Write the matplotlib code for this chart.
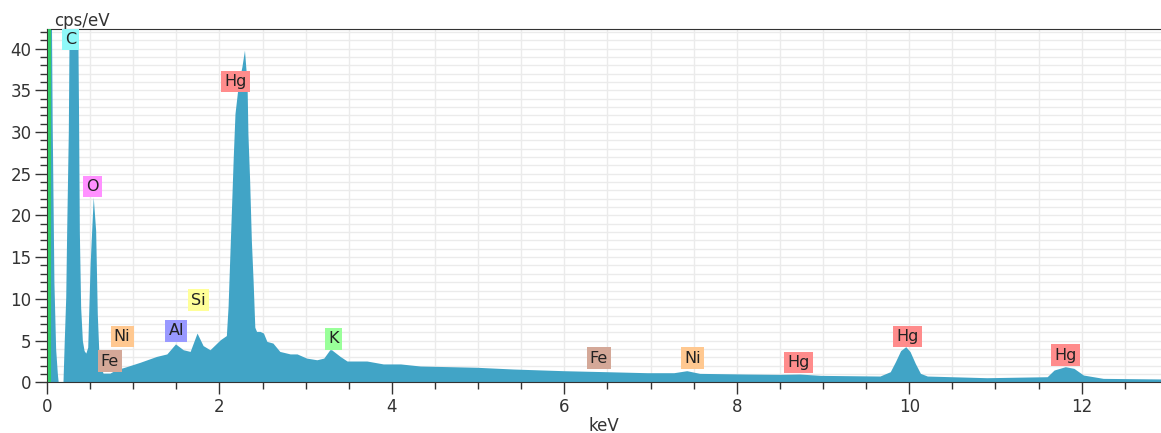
import matplotlib
matplotlib.use("Agg")
from matplotlib import pyplot as plt
from matplotlib.ticker import MultipleLocator

# spectrum (keV, cps/eV)
energy = [0.0, 0.05, 0.06, 0.08, 0.10, 0.12, 0.13, 0.185, 0.20, 0.217, 0.228,
          0.247, 0.258, 0.355, 0.365, 0.375, 0.39, 0.41, 0.43, 0.45, 0.472,
          0.50, 0.536, 0.564, 0.583, 0.606, 0.65, 0.73, 0.80, 0.90, 1.08,
          1.27, 1.39, 1.49, 1.58, 1.66, 1.74, 1.81, 1.89, 2.01, 2.08, 2.10,
          2.12, 2.14, 2.16, 2.18, 2.22, 2.26, 2.29, 2.32, 2.33, 2.35, 2.37,
          2.39, 2.41, 2.43, 2.47, 2.51, 2.55, 2.62, 2.70, 2.82, 2.90, 3.01,
          3.13, 3.21, 3.28, 3.30, 3.40, 3.48, 3.71, 3.90, 4.10, 4.33, 4.98,
          5.41, 5.99, 6.49, 6.96, 7.27, 7.42, 7.57, 8.11, 8.50, 8.73, 8.97,
          9.66, 9.78, 9.84, 9.90, 9.96, 10.01, 10.07, 10.13, 10.21, 10.90,
          11.60, 11.68, 11.81, 11.91, 12.02, 12.25, 12.92]
counts = [45.0, 45.0, 31.0, 12.0, 4.0, 1.0, 0.0, 0.0, 5.0, 10.2, 18.2,
          30.0, 45.0, 45.0, 33.0, 18.0, 9.0, 5.0, 3.8, 3.5, 4.2,
          14.2, 22.2, 18.2, 8.2, 2.3, 1.1, 1.1, 1.5, 1.8, 2.4,
          3.1, 3.4, 4.6, 3.9, 3.7, 5.9, 4.4, 3.9, 5.1, 5.6, 9.1,
          15.1, 21.0, 27.0, 32.2, 35.8, 37.8, 39.8, 35.8, 29.8, 24.2, 17.0,
          12.2, 6.6, 6.1, 6.1, 5.9, 4.9, 4.7, 3.7, 3.4, 3.4, 2.9,
          2.7, 2.9, 3.9, 3.9, 3.1, 2.55, 2.55, 2.2, 2.2, 1.95, 1.80,
          1.59, 1.39, 1.27, 1.15, 1.15, 1.39, 1.07, 0.99, 0.95, 0.99, 0.83,
          0.75, 1.27, 2.47, 3.79, 4.27, 3.67, 2.27, 1.07, 0.75, 0.55,
          0.67, 1.47, 1.87, 1.67, 0.87, 0.47, 0.40]

# element labels: name, keV, cps position, box colour
labels = ["C", "O", "Hg", "Si", "Ni", "Al", "Fe", "K", "Fe", "Ni", "Hg", "Hg", "Hg"]
label_x = [0.27, 0.53, 2.19, 1.76, 0.87, 1.50, 0.73, 3.32, 6.40, 7.49, 8.72, 9.98, 11.81]
label_y = [41.1, 23.5, 36.05, 9.85, 5.5, 6.15, 2.55, 5.2, 2.9, 2.9, 2.4, 5.5, 3.27]
label_col = ["#8ff8f8", "#ff90ff", "#ff8c8c", "#ffff99", "#ffc890", "#9999ff",
             "#d4a898", "#99ff99", "#d4a898", "#ffc890", "#ff8c8c", "#ff8c8c", "#ff8c8c"]

fig = plt.figure(figsize=(11.61, 4.33), dpi=100)
ax = fig.add_axes([0.0405, 0.1171, 0.9595, 0.8152])

ax.fill_between(energy, counts, 0, color="#41a4c6", linewidth=0, zorder=2)
ax.axvline(0.018, color="#33cc66", linewidth=2.2, zorder=3)

for name, x, y, c in zip(labels, label_x, label_y, label_col):
    ax.text(x, y, name, ha="center", va="center", fontsize=11.5, color="#222222",
            zorder=5, bbox=dict(boxstyle="square,pad=0.2", fc=c, ec="none"))

ax.set_xlim(0, 12.92)
ax.set_ylim(0, 42.3)
ax.xaxis.set_major_locator(MultipleLocator(2))
ax.xaxis.set_minor_locator(MultipleLocator(0.5))
ax.yaxis.set_major_locator(MultipleLocator(5))
ax.yaxis.set_minor_locator(MultipleLocator(1))
ax.grid(True, which="both", color="#ebebeb", linewidth=1.0)
ax.set_axisbelow(True)

ax.tick_params(which="major", length=8.5, width=1, color="#333333", pad=2.5,
               labelsize=12, labelcolor="#333333")
ax.tick_params(which="minor", length=5, width=1, color="#333333")
ax.spines["right"].set_visible(False)
for s in ["top", "bottom", "left"]:
    ax.spines[s].set_color("#333333")

ax.set_xlabel("keV", fontsize=12, color="#333333", labelpad=1)
ax.text(0.006, 0.998, "cps/eV", transform=ax.transAxes, ha="left", va="bottom",
        fontsize=12, color="#333333")

fig.savefig("out.png", dpi=100)
